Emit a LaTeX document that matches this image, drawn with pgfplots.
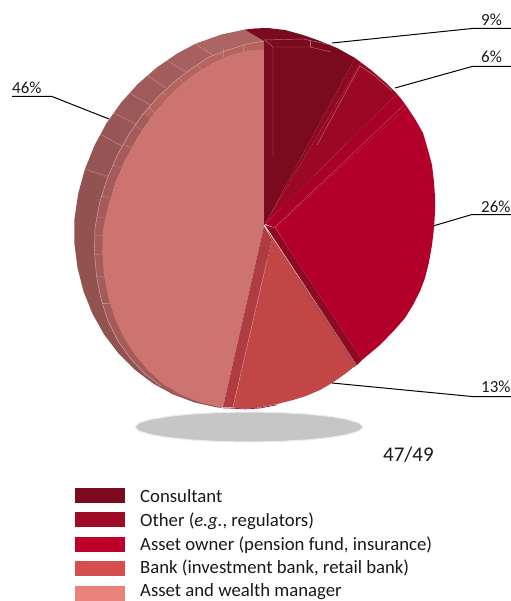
\documentclass[border=0pt]{standalone}
\usepackage{pgfplots}
\pgfplotsset{compat=1.18}
\usepackage{fontspec}
\setmainfont{Carlito}
\definecolor{cConsult}{HTML}{7A0A1E}
\definecolor{cOther}{HTML}{9A0823}
\definecolor{cOtherEdge}{HTML}{8E0A22}
\definecolor{cOwner}{HTML}{B3002A}
\definecolor{cOwnerEdge}{HTML}{AA0028}
\definecolor{cBank}{HTML}{C24646}
\definecolor{cBankEdge}{HTML}{AE3C40}
\definecolor{cBankLip}{HTML}{B4484A}
\definecolor{cAsset}{HTML}{CE7470}
\definecolor{cShadow}{HTML}{C6C6C6}
\definecolor{cBandA}{HTML}{A45C5A}
\definecolor{cBandB}{HTML}{B4635F}
\definecolor{cSeam}{HTML}{D8ABA8}
\definecolor{cSeamFaint}{HTML}{B98886}
\definecolor{cSeamDark}{HTML}{B66A78}
\definecolor{kConsult}{HTML}{7B0A1E}
\definecolor{kOther}{HTML}{9F0A26}
\definecolor{kOwner}{HTML}{BF0028}
\definecolor{kBank}{HTML}{D64E4E}
\definecolor{kAsset}{HTML}{E8827A}
\definecolor{s0}{HTML}{915250}
\definecolor{s1}{HTML}{965454}
\definecolor{s2}{HTML}{995656}
\definecolor{s3}{HTML}{9C5858}
\definecolor{s4}{HTML}{A05A5A}
\definecolor{s5}{HTML}{A45C5C}
\definecolor{s6}{HTML}{A85F5F}
\definecolor{s7}{HTML}{AD6462}
\newcommand{\lab}[1]{{\fontsize{17}{20}\selectfont #1}}
\newcommand{\keytext}[1]{{\fontsize{18.8}{22}\selectfont #1}}
\tikzset{
  seam/.style={draw=cSeam, line width=0.45bp},
  seamf/.style={draw=cSeamFaint, line width=0.4bp},
  seamd/.style={draw=cSeamDark, line width=0.45bp},
  lead/.style={draw=black, line width=1bp},
  txt/.style={anchor=base west, inner sep=0pt, text=black!90},
}
\begin{document}
\begin{tikzpicture}
\begin{axis}[
  scale only axis, width=511bp, height=601bp,
  xmin=0, xmax=511, ymin=0, ymax=601, y dir=reverse,
  hide axis, clip=true,
]
% page background keeps the full extent
\addplot[fill=white, draw=none] coordinates {(0,0)(511,0)(511,601)(0,601)} --cycle;

% shadow under the pie
\addplot[fill=cShadow, draw=cShadow!35, line width=1bp] coordinates {
 (363,427)(359.1,430.9)(347.7,434.5)(329.6,437.6)(306,440)(278.5,441.5)(249,442)
 (219.5,441.5)(192,440)(168.4,437.6)(150.3,434.5)(138.9,430.9)(135,427)
 (138.9,423.1)(150.3,419.5)(168.4,416.4)(192,414)(219.5,412.5)(249,412)
 (278.5,412.5)(306,414)(329.6,416.4)(347.7,419.5)(359.1,423.1)} --cycle;

% Asset and wealth manager, outer wall in facets
\addplot[fill=s0, draw=none] coordinates {
 (223,408)(217,407.4)(194.7,402.5)(173.2,394.5)(153.1,383.5)(134.7,369.6)(118.3,353.2)(104.1,334.5)(92.5,313.8)(83.5,291.4)(77.5,267.8)(74.4,243.4)(74.5,218.5)(78.2,193.6)(84.9,169.2)
 (113,180)(112,300)(160,384)} --cycle;
\addplot[fill=s1, draw=none] coordinates {(84.9,169.2)(94.4,145.6)(100.5,134.4)(130,151)(113,180)} --cycle;
\addplot[fill=s2, draw=none] coordinates {(100.5,134.4)(106.5,123.2)(113.8,112.9)(143,128)(130,151)} --cycle;
\addplot[fill=s3, draw=none] coordinates {(113.8,112.9)(121.2,102.5)(129.6,93.1)(158,109)(143,128)} --cycle;
\addplot[fill=s4, draw=none] coordinates {(129.6,93.1)(138,83.8)(147.5,75.6)(173,92)(158,109)} --cycle;
\addplot[fill=s5, draw=none] coordinates {(147.5,75.6)(156.9,67.4)(167,60.5)(194,76)(173,92)} --cycle;
\addplot[fill=s6, draw=none] coordinates {(167,60.5)(177.2,53.5)(195,44)(222,60)(194,76)} --cycle;
\addplot[fill=s7, draw=none] coordinates {(195,44)(198.9,42.5)(221.5,34.5)(244.6,29.6)(264,41)(264,50)(222,60)} --cycle;

% inner ledge
\addplot[fill=cBandB, draw=none] coordinates {
 (264,41)(247,44)(228,50)(209,57)(191,69)(174,82)(158,97)(143,114)
 (149.7,119.2)(164,101.6)(179.5,86.1)(195.9,73.1)(212.9,62.7)(230.3,55.1)(247.8,50.5)(264,49.5)} --cycle;
\addplot[fill=cBandA, draw=none] coordinates {
 (143,114)(129,134)(117,156)(107,179)(99.5,203)(95,228)(94.5,252)(96.5,276)(101,299)(108,321)(118,341)(130,358)(145,374)(161,386)(178,396)(198.2,401.9)
 (180.2,394.3)(163.7,384)(148.6,370.9)(135.3,355.4)(124,337.8)(114.8,318.3)(108.2,297.2)(103.9,275)(102.2,251.9)(103,228.5)(108.4,205.1)(115.9,182)(125.4,159.8)(136.7,138.8)(149.7,119.2)} --cycle;

% seams across wall and ledge
\addplot[seamf] coordinates {(195,44)(214,56)};
\addplot[seamf] coordinates {(167,60.5)(185,72)};
\addplot[seamf] coordinates {(147.5,75.6)(165,88)};
\addplot[seamf] coordinates {(129.6,93.1)(150,105)};
\addplot[seamf] coordinates {(113.8,112.9)(135,124)};
\addplot[seamf] coordinates {(100.5,134.4)(122,146)};
\addplot[seamf] coordinates {(84.9,169.2)(108,176)};
\addplot[seamf] coordinates {(223,49)(223,57)};
\addplot[seamf] coordinates {(243,45)(243,52)};
\addplot[seamf] coordinates {(197,65)(202,70)};
\addplot[seamf] coordinates {(179,78)(184,84)};
\addplot[seamf] coordinates {(163,92)(168,98)};
\addplot[seamf] coordinates {(149,107)(155,113)};
\addplot[seamf] coordinates {(135,125)(142,130)};
\addplot[seamf] coordinates {(123,144)(131,148)};
\addplot[seamf] coordinates {(113,165)(121,168)};
\addplot[seamf] coordinates {(101,196)(110,198)};
\addplot[seamf] coordinates {(97,217)(105,218)};
\addplot[seamf] coordinates {(95,235)(103,236)};
\addplot[seamf] coordinates {(94.5,254)(102,255)};
\addplot[seamf] coordinates {(97,276)(104,277)};
\addplot[seamf] coordinates {(102,303)(110,303)};
\addplot[seam] coordinates {(264,41)(247,44)(228,50)(209,57)(191,69)(174,82)(158,97)(143,114)(129,134)(117,156)(107,179)(99.5,203)(95,228)(94.5,252)(96.5,276)(101,299)(108,321)(118,341)(130,358)(145,374)(161,386)};

% Asset and wealth manager, 46
\addplot[fill=cAsset, draw=none] coordinates {
 (264,49.5)(247.8,50.5)(230.3,55.1)(212.9,62.7)(195.9,73.1)(179.5,86.1)(164,101.6)(149.7,119.2)(136.7,138.8)(125.4,159.8)(115.9,182)(108.4,205.1)(103,228.5)(102.2,251.9)(103.9,275)(108.2,297.2)(114.8,318.3)(124,337.8)(135.3,355.4)(148.6,370.9)(163.7,384)(180.2,394.3)(198.2,401.9)(216.9,406.5)(223,407)
 (264,226)} --cycle;

% Consultant, 9
\addplot[fill=cConsult, draw=none] coordinates {
 (244.6,29.6)(256,28.4)(267.7,28)(285,30)(303,35)(320,41)(337,48)(355,58)(265,224)(264,225)(264,41)} --cycle;
\addplot[seamd] coordinates {(264,40)(303,39)(331,45)};
\addplot[seamd] coordinates {(273,47)(310,47)(331,52)};
\addplot[seamd] coordinates {(273,157)(273,47)(265,40)};
\addplot[seamd] coordinates {(310,40)(310,47)};

% Other, 6
\addplot[fill=cOtherEdge, draw=none] coordinates {(355,58)(361,62.5)(265,224)} --cycle;
\addplot[fill=cOther, draw=none] coordinates {(361,62.5)(371,70)(385,82)(397,94)(265,224)} --cycle;
\addplot[seamd] coordinates {(317,145)(360,66)(375,76)(392,91)};

% Asset owner, 26
\addplot[fill=cOwner, draw=none] coordinates {
 (407,107)(415,119)(423,133)(428,150)(432,165)(434,182)(435,197)(435,212)(434,228)(432,245)(429,262)(425,278)(420.5,290)(413,305)(405,318)(394.5,330)(380,345)(362,360)(275,228)} --cycle;
\addplot[fill=cOwnerEdge, draw=none] coordinates {(397,94)(402,100)(407,107)(275,228)(265,224)} --cycle;
\addplot[draw=cOwner!70!white, line width=0.4bp] coordinates {(404,105)(275,227)(297,262)};

% Bank, 13
\addplot[fill=cBank, draw=none] coordinates {
 (272,240)(355,366)(345,374)(332,383)(320,390)(306,396)(293,400)(277,404)(260,407.5)(245,408.7)(233,407.5)} --cycle;
\addplot[fill=cBankLip, draw=none] coordinates {(266,228)(357,365)(354,367)(272,240)} --cycle;
\addplot[fill=cBankEdge, draw=none] coordinates {(264,226)(272,240)(233,407.5)(223,407)} --cycle;
\addplot[draw=cBank!60!white, line width=0.4bp] coordinates {(267,260)(233,407)};
\addplot[draw=cOtherEdge!80!cBank, line width=0.7bp] coordinates {(223,408)(233,408.2)(245,409)(260,408)(277,404.8)};
\addplot[fill=cOtherEdge, draw=none] coordinates {(265,225)(275,228)(362,360)(357,365)} --cycle;

% leader lines
\addplot[lead] coordinates {(332,43)(472,28.5)(511,28.5)};
\addplot[lead] coordinates {(395,88)(472,66.5)(511,66.5)};
\addplot[lead] coordinates {(433,226)(472,214.5)(511,214.5)};
\addplot[lead] coordinates {(332,383)(472,396.5)(511,396.5)};
\addplot[lead] coordinates {(109,119)(52,96.5)(12,96.5)};

% key swatches
\addplot[fill=kConsult, draw=none] coordinates {(75,488)(125,488)(125,503)(75,503)} --cycle;
\addplot[fill=kOther, draw=none] coordinates {(75,512)(125,512)(125,527)(75,527)} --cycle;
\addplot[fill=kOwner, draw=none] coordinates {(75,537)(125,537)(125,552)(75,552)} --cycle;
\addplot[fill=kBank, draw=none] coordinates {(75,561)(125,561)(125,576)(75,576)} --cycle;
\addplot[fill=kAsset, draw=none] coordinates {(75,586)(125,586)(125,601)(75,601)} --cycle;

\node[txt] at (axis cs:140,502) {\keytext{Consultant}};
\node[txt] at (axis cs:140,526) {\keytext{Other (\textit{e.g.}, regulators)}};
\node[txt] at (axis cs:140,550) {\keytext{Asset owner (pension fund, insurance)}};
\node[txt] at (axis cs:140,573.5) {\keytext{Bank (investment bank, retail bank)}};
\node[txt] at (axis cs:140,596.6) {\keytext{Asset and wealth manager}};

\node[txt] at (axis cs:481,26) {\lab{9\%}};
\node[txt] at (axis cs:481,62.7) {\lab{6\%}};
\node[txt] at (axis cs:481,212) {\lab{26\%}};
\node[txt] at (axis cs:481,392.7) {\lab{13\%}};
\node[txt] at (axis cs:12,93) {\lab{46\%}};
\node[txt] at (axis cs:383,461.7) {{\fontsize{21}{24}\selectfont 47/49}};
\end{axis}
\end{tikzpicture}
\end{document}
